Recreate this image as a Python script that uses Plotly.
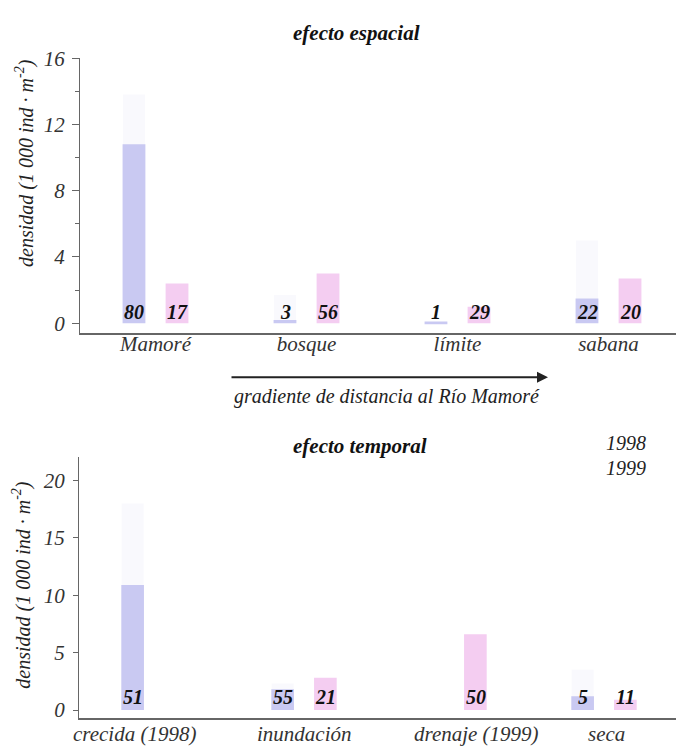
import plotly.graph_objects as go

# ---------------- data ----------------
spatial_cats = ["Mamoré", "bosque", "límite", "sabana"]
spatial_1998 = [10.8, 0.2, 0.1, 1.5]
spatial_1999 = [2.4, 3.0, 1.0, 2.7]
spatial_err_1998 = [3.0, 1.5, 0.0, 3.5]
spatial_n_1998 = ["80", "3", "1", "22"]
spatial_n_1999 = ["17", "56", "29", "20"]

temporal_cats = ["crecida (1998)", "inundación", "drenaje (1999)", "seca"]
temporal_1998 = [10.9, 1.8, 0.0, 1.2]
temporal_1999 = [0.0, 2.8, 6.6, 0.9]
temporal_err_1998 = [7.1, 0.5, 0.0, 2.3]
temporal_n_1998 = ["51", "55", "", "5"]
temporal_n_1999 = ["", "21", "50", "11"]

years = ["1998", "1999"]
ytitle = "densidad (1 000 ind · m<sup>-2</sup>)"

# ---------------- style ----------------
W, H = 684, 751
OFF = 8  # page body margin of the rendered html
FONT = "Liberation Serif"
C98 = "#c9c9f2"
C99 = "#f4cdf1"
ERRC = "rgba(205,205,240,0.13)"
AXC = "#666666"
TEMPORAL_LABEL_SHIFT = [-20, 0, 22, 2]

def px(x):
    return (x - OFF) / W

def py(y):
    return 1 - (y - OFF) / H

fig = go.Figure()

def add_bars(cats, v98, v99, e98, xa, ya):
    fig.add_trace(go.Bar(
        x=cats, y=v98, name=years[0], marker_color=C98, marker_line_width=0,
        error_y=dict(type="data", array=e98, arrayminus=[0] * len(e98),
                     symmetric=False, color=ERRC, thickness=22, width=0),
        xaxis=xa, yaxis=ya, showlegend=False, hoverinfo="skip"))
    fig.add_trace(go.Bar(
        x=cats, y=v99, name=years[1], marker_color=C99, marker_line_width=0,
        xaxis=xa, yaxis=ya, showlegend=False, hoverinfo="skip"))

add_bars(spatial_cats, spatial_1998, spatial_1999, spatial_err_1998, "x", "y")
add_bars(temporal_cats, temporal_1998, temporal_1999, temporal_err_1998, "x2", "y2")

annotations = []

def n_labels(cats, n98, n99, xref, yref, ylab, shift):
    for c, a, b in zip(cats, n98, n99):
        for txt, s in ((a, -shift), (b, shift)):
            if txt:
                annotations.append(dict(
                    x=c, y=ylab, xref=xref, yref=yref, text="<b>" + txt + "</b>",
                    showarrow=False, xshift=s, yanchor="middle",
                    font=dict(size=20, color="#111111")))

n_labels(spatial_cats, spatial_n_1998, spatial_n_1999, "x", "y", 0.65, 21.5)
n_labels(temporal_cats, temporal_n_1998, temporal_n_1999, "x2", "y2", 1.1, 21.5)

# category labels of the temporal panel (slightly offset as in the original)
for c, s in zip(temporal_cats, TEMPORAL_LABEL_SHIFT):
    annotations.append(dict(
        x=c, y=py(738), xref="x2", yref="paper", text=c, showarrow=False,
        xshift=s, yanchor="middle", font=dict(size=21, color="#333333")))

def ptext(text, x, y, size=20, bold=False, angle=0, color="#222222"):
    annotations.append(dict(
        x=px(x), y=py(y), xref="paper", yref="paper",
        text=("<b>%s</b>" % text) if bold else text, showarrow=False,
        xanchor="center", yanchor="middle", textangle=angle,
        font=dict(size=size, color=color)))

ptext("efecto espacial", 357, 21, size=21, bold=True, color="#111111")
ptext("efecto temporal", 360, 443, size=21, bold=True, color="#111111")
ptext(years[0], 626, 440)
ptext(years[1], 626, 466)
ptext(ytitle, 25, 154, size=20, angle=-90)
ptext(ytitle, 22, 585, size=20, angle=-90)
ptext("gradiente de distancia al Río Mamoré", 387, 393, size=20)

annotations.append(dict(
    x=px(548), y=py(373), xref="paper", yref="paper", text="",
    showarrow=True, ax=-318, ay=0, arrowhead=2, arrowsize=1.1,
    arrowwidth=2, arrowcolor="#222222"))

axis_common = dict(showgrid=False, zeroline=False, showline=True,
                   linecolor=AXC)

fig.update_layout(
    width=W, height=H,
    margin=dict(l=0, r=0, t=0, b=0),
    paper_bgcolor="white", plot_bgcolor="white",
    font=dict(family=FONT, style="italic", color="#222222"),
    barmode="group", bargap=0.43, bargroupgap=0.47,
    annotations=annotations,
    xaxis=dict(domain=[px(80), px(684)], anchor="y", ticks="", linewidth=2,
               type="category", range=[-0.5, len(spatial_cats) - 0.5],
               ticklabelstandoff=-9, tickfont=dict(size=21, color="#333333"),
               **axis_common),
    yaxis=dict(domain=[py(328), py(47)], anchor="x", range=[-0.6, 16],
               tickvals=[0, 4, 8, 12, 16], ticks="outside", ticklen=7,
               tickcolor=AXC, linewidth=1, ticklabelstandoff=3,
               tickfont=dict(size=21, color="#333333"),
               minor=dict(tickvals=[2, 6, 10, 14], ticks="outside", ticklen=4,
                          tickcolor=AXC),
               **axis_common),
    xaxis2=dict(domain=[px(79), px(679)], anchor="y2", ticks="", linewidth=2,
                type="category", range=[-0.5, len(temporal_cats) - 0.5],
                showticklabels=False, **axis_common),
    yaxis2=dict(domain=[py(721), py(455)], anchor="x2", range=[-0.68, 22],
                tickvals=[0, 5, 10, 15, 20], ticks="outside", ticklen=5,
                tickcolor=AXC, linewidth=1, ticklabelstandoff=4,
                tickfont=dict(size=21, color="#333333"),
                **axis_common),
)

fig.write_html("out.html")
